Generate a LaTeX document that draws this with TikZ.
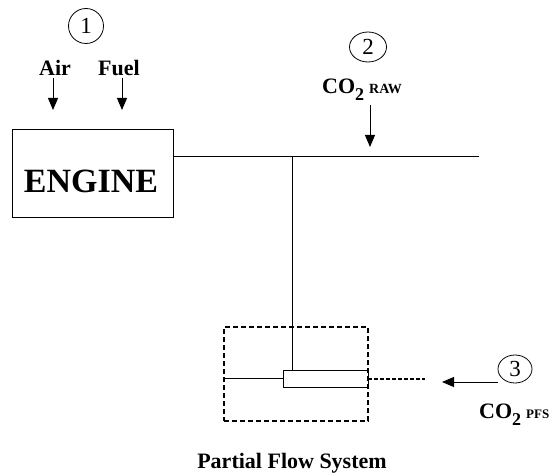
\documentclass[tikz,border=0pt]{standalone}
\usepackage{fontspec}
\setmainfont{Liberation Serif}
\usetikzlibrary{arrows.meta,shapes.geometric}

\newcommand{\cotwo}[2][14]{CO\raisebox{-7pt}{\fontsize{18}{18}\selectfont 2}\hspace{5pt}{\fontsize{#1}{#1}\selectfont #2}}

\tikzset{
  lbl/.style={font=\fontsize{22}{24}\selectfont\bfseries, inner sep=2pt, anchor=base},
  numring/.style={draw, ellipse, inner sep=0pt, line width=0.8pt,
    font=\fontsize{23}{24}\selectfont},
  pipe/.style={line width=0.9pt},
}

\begin{document}
\begin{tikzpicture}[x=1pt,y=-1pt,>={Triangle[width=10pt,length=12pt]}]
\useasboundingbox (0,0) rectangle (552,476);

% engine and its inputs
\node[draw, line width=0.8pt, minimum width=161pt, minimum height=88pt, inner sep=0pt] (engine) at (92.5,173) {};
\node[font=\fontsize{34}{36}\selectfont\bfseries, anchor=base, inner sep=0pt] (enginetxt) at (91,193) {ENGINE};

\node[numring, minimum width=35pt, minimum height=35pt] (one) at (86,26) {\raisebox{-3pt}{1}};
\node[lbl] (air) at (55,76) {Air};
\node[lbl] (fuel) at (119,76) {Fuel};
\coordinate (airtip) at (53,110);
\coordinate (fueltip) at (122,110);
\draw[pipe,->] (airtip |- air.south) -- (airtip);
\draw[pipe,->] (fueltip |- fuel.south) -- (fueltip);

% raw exhaust
\coordinate (pipeend) at (479,156);
\draw[pipe] (engine.east |- pipeend) -- (pipeend);
\node[numring, minimum width=37pt, minimum height=30pt] (two) at (368,47) {\raisebox{-3pt}{2}};
\node[lbl, anchor=base west, inner sep=0pt] (raw) at (322,94) {\cotwo{RAW}};
\coordinate (rawtip) at (370,147);
\draw[pipe,->] (rawtip |- 0,105) -- (rawtip);

% partial flow system
\node[draw, dashed, line width=1.4pt, dash pattern=on 5pt off 3pt, minimum width=144pt, minimum height=94pt] (pfsbox) at (296,374) {};
\node[draw, line width=0.8pt, minimum width=85pt, minimum height=17pt, inner sep=0pt] (probe) at (325.5,378.5) {};
\coordinate (tee) at (292.5,156);
\draw[pipe] (tee) -- (tee |- probe.north);
\draw[pipe] (pfsbox.west |- probe.west) -- (probe.west);
\coordinate (dashend) at (425,378.5);
\draw[line width=2pt, dash pattern=on 4pt off 2pt] (probe.east) -- (dashend);

\node[numring, minimum width=34pt, minimum height=28pt] (three) at (515,369) {\raisebox{-3pt}{3}};
\coordinate (pfstip) at (442,382);
\draw[pipe,->] (three.west |- pfstip) -- (pfstip);
\node[lbl, anchor=base west, inner sep=0pt] (pfs) at (479,418) {\cotwo[13]{PFS}};

\node[lbl] (pfstitle) at (292,468) {Partial Flow System};
\end{tikzpicture}
\end{document}
